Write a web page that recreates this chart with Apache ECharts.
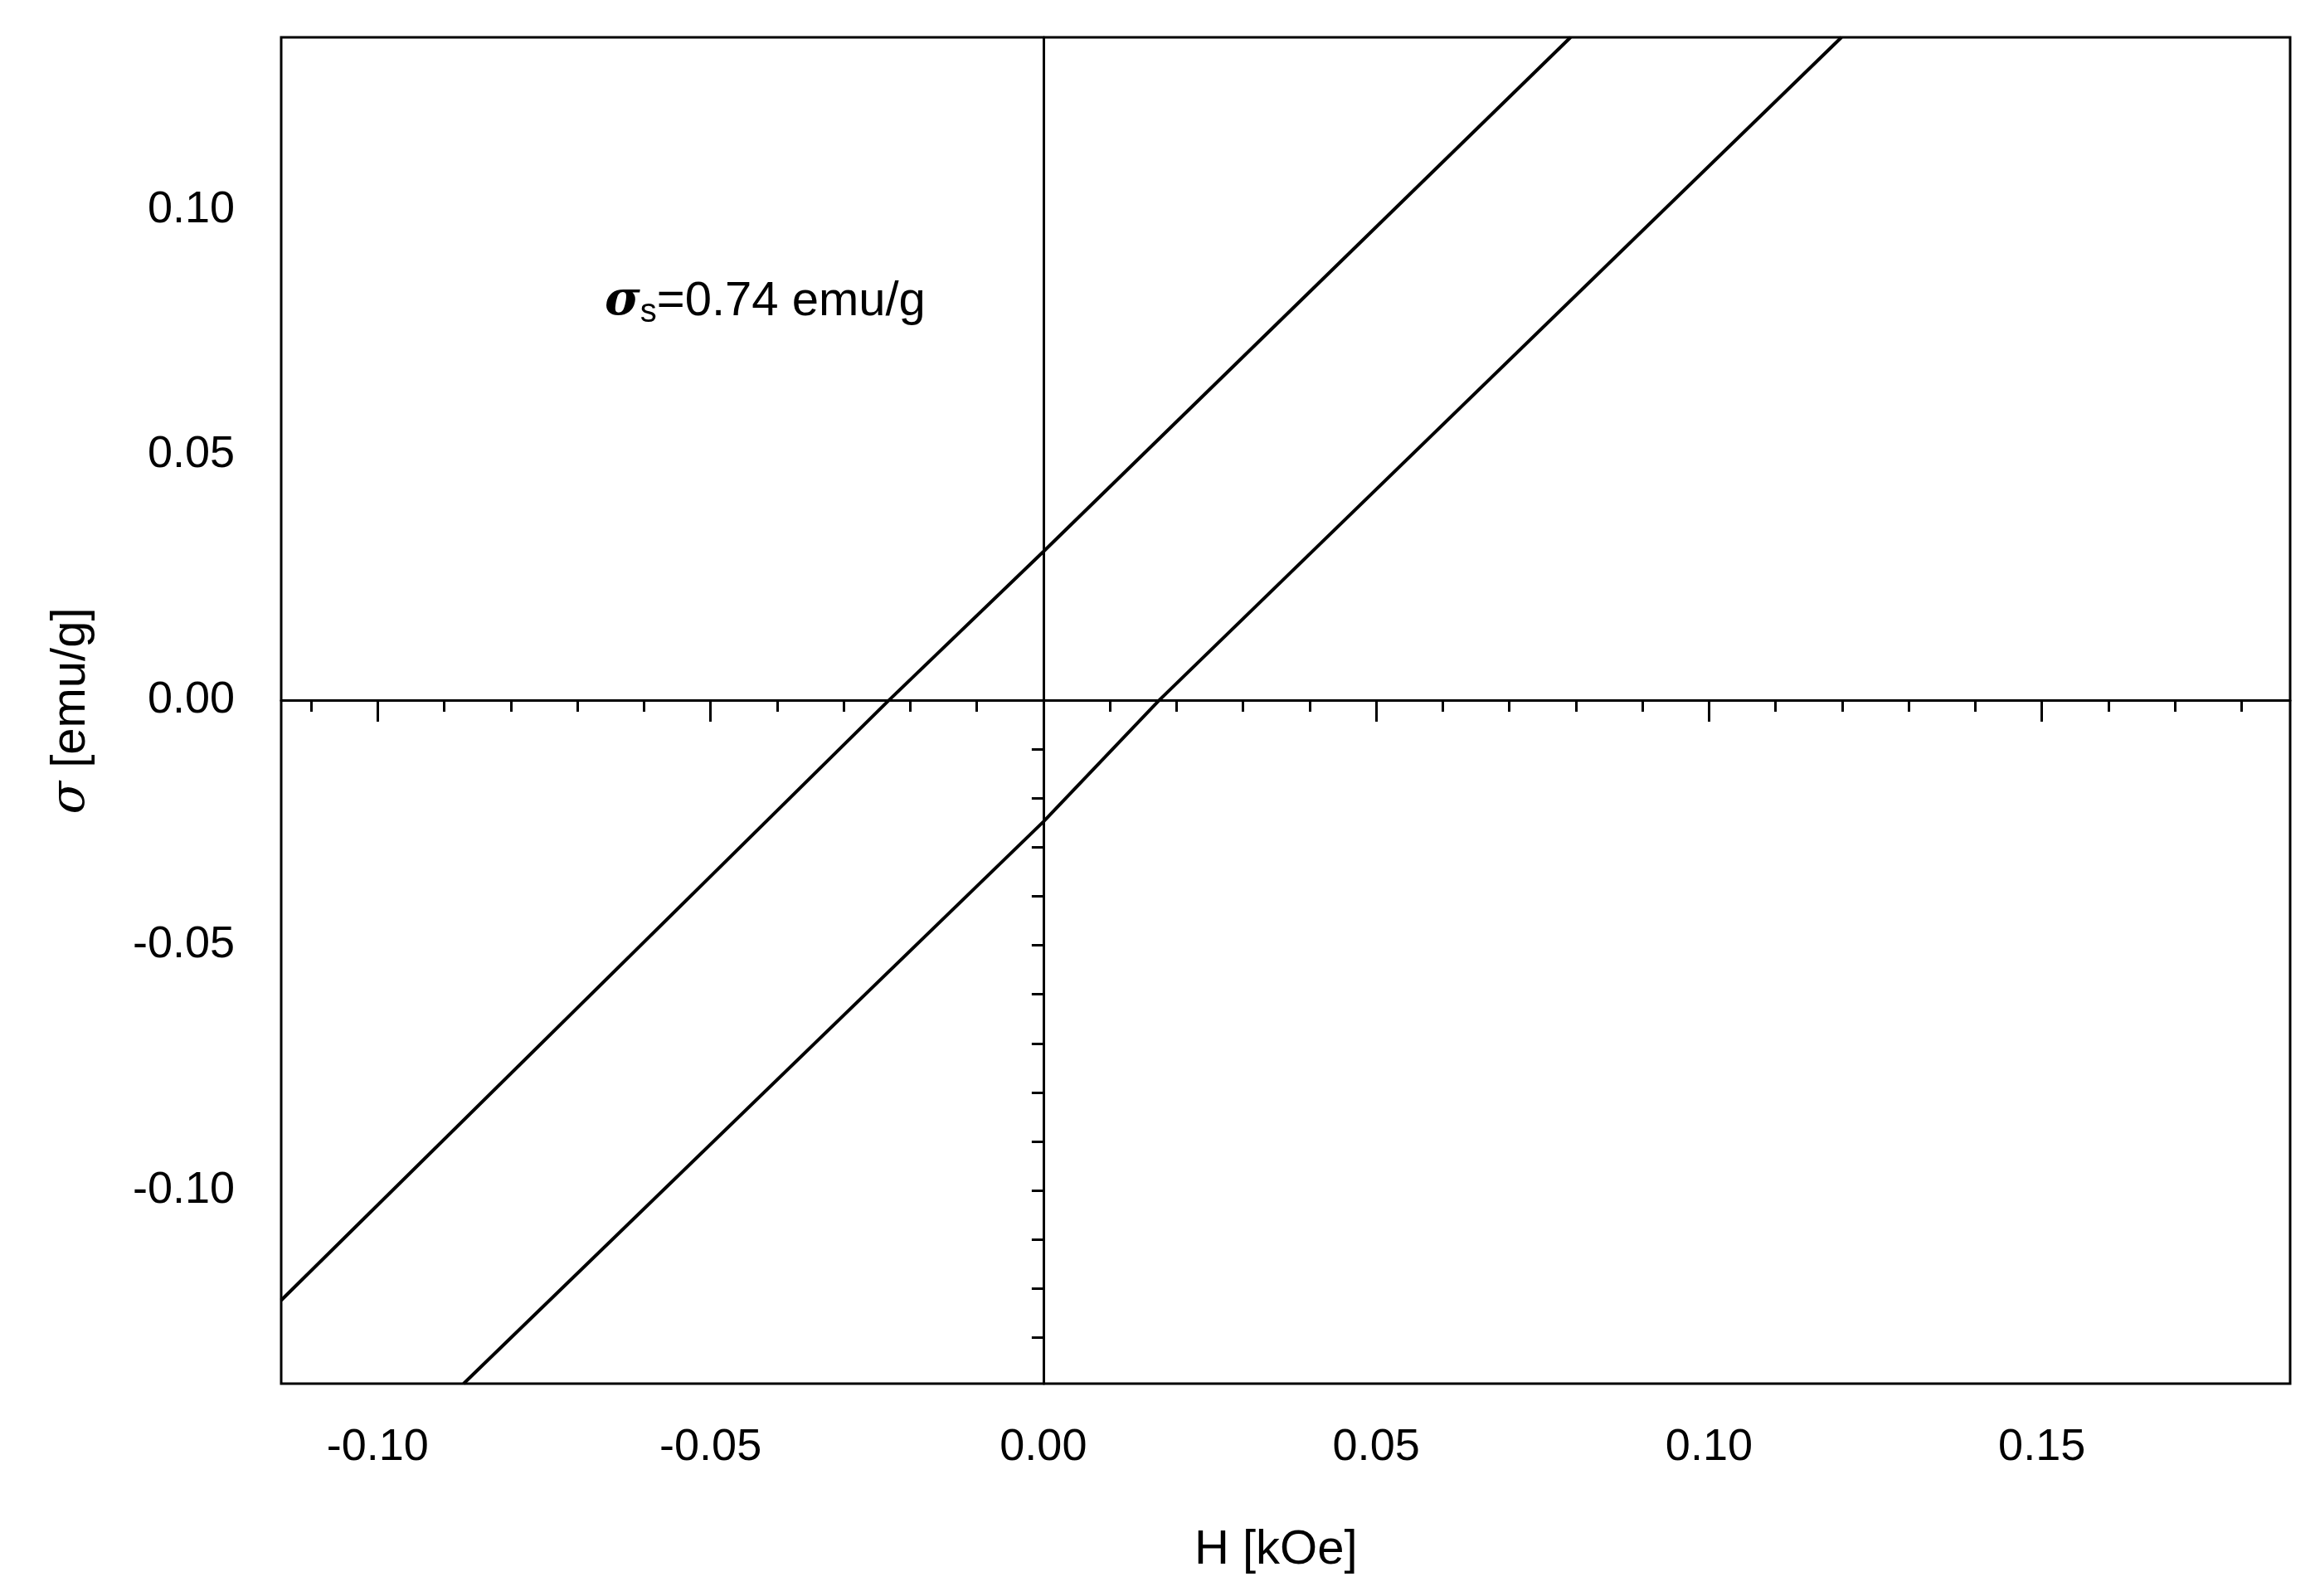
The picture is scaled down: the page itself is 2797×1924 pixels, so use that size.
<!DOCTYPE html>
<html><head><meta charset="utf-8">
<script src="https://cdn.jsdelivr.net/npm/echarts@6/dist/echarts.min.js"></script>
<style>html,body{margin:0;padding:0;background:#fff}#c{width:2797px;height:1924px}</style>
</head><body><div id="c"></div>
<script>
const branchUpper = [[-0.1145,-0.1224],[-0.0232,0.0],[0.0,0.0303],[0.0792,0.1352]];
const branchLower = [[-0.0871,-0.1394],[0.0,-0.0248],[0.0174,0.0],[0.1199,0.1352]];
const xLabels = [-0.10,-0.05,0.00,0.05,0.10,0.15];
const xMinor = [-0.11,-0.09,-0.08,-0.07,-0.06,-0.04,-0.03,-0.02,-0.01,0.01,0.02,0.03,0.04,0.06,0.07,0.08,0.09,0.11,0.12,0.13,0.14,0.16,0.17,0.18];
const yLabels = [-0.10,-0.05,0.00,0.05,0.10];
const yMajorTicks = [-0.05,-0.10];
const yMinor = [-0.01,-0.02,-0.03,-0.04,-0.06,-0.07,-0.08,-0.09,-0.11,-0.12,-0.13];
const X_MIN=-0.1145, X_MAX=0.1873, Y_MIN=-0.1394, Y_MAX=0.1352;
const FONT='"Liberation Sans", Arial, sans-serif';
const fmt=v=>v.toFixed(2);
const chart=echarts.init(document.getElementById('c'));
const ax={color:'#000',width:3};
chart.setOption({
  animation:false,
  backgroundColor:'#fff',
  grid:{left:339,right:36,top:45,bottom:256,show:true,borderColor:'#000',borderWidth:3,backgroundColor:'transparent'},
  xAxis:[
    {type:'value',min:X_MIN,max:X_MAX,position:'bottom',splitLine:{show:false},
     axisLine:{lineStyle:ax},
     axisTick:{customValues:xLabels,length:26,lineStyle:ax},
     axisLabel:{customValues:xLabels,formatter:fmt,fontSize:54,fontFamily:FONT,color:'#000',margin:50}},
    {type:'value',min:X_MIN,max:X_MAX,position:'bottom',splitLine:{show:false},
     axisLine:{show:false},
     axisTick:{customValues:xMinor,length:14,lineStyle:ax},
     axisLabel:{show:false}}
  ],
  yAxis:[
    {type:'value',min:Y_MIN,max:Y_MAX,position:'left',splitLine:{show:false},
     axisLine:{lineStyle:ax},
     axisTick:{customValues:yMajorTicks,length:14,lineStyle:ax},
     axisLabel:{customValues:yLabels,formatter:fmt,fontSize:54,fontFamily:FONT,color:'#000',margin:56}},
    {type:'value',min:Y_MIN,max:Y_MAX,position:'left',splitLine:{show:false},
     axisLine:{show:false},
     axisTick:{customValues:yMinor,length:14,lineStyle:ax},
     axisLabel:{show:false}}
  ],
  series:[
    {type:'line',data:branchUpper,showSymbol:false,lineStyle:{color:'#000',width:4},
     markLine:{silent:true,symbol:['none','none'],label:{show:false},lineStyle:{color:'#000',width:3,type:'solid'},
       data:[{xAxis:0},{yAxis:0}]}},
    {type:'line',data:branchLower,showSymbol:false,lineStyle:{color:'#000',width:4}}
  ],
  graphic:[
    {type:'text',left:'center',x:0,style:{text:'H [kOe]',fontSize:58,fontFamily:FONT,fill:'#000'},left:1440,top:1840},
    {type:'text',x:86,y:857,rotation:Math.PI/2,style:{rich:{
        s:{fontSize:58,fontFamily:'"DejaVu Serif", serif',fontStyle:'italic',fill:'#000'},
        t:{fontSize:58,fontFamily:FONT,fill:'#000'}},
      text:'{s|σ}{t| [emu/g]}',align:'center',verticalAlign:'middle'}},
    {type:'text',x:729,y:364,style:{rich:{
        s:{fontSize:58,fontFamily:'"DejaVu Serif", serif',fontStyle:'italic',fontWeight:'bold',fill:'#000'},
        b:{fontSize:40,fontFamily:FONT,fill:'#000',padding:[26,0,0,0]},
        t:{fontSize:58,fontFamily:FONT,fill:'#000'}},
      text:'{s|σ}{b|s}{t|=0.74 emu/g}',verticalAlign:'middle'}}
  ]
});
</script></body></html>
